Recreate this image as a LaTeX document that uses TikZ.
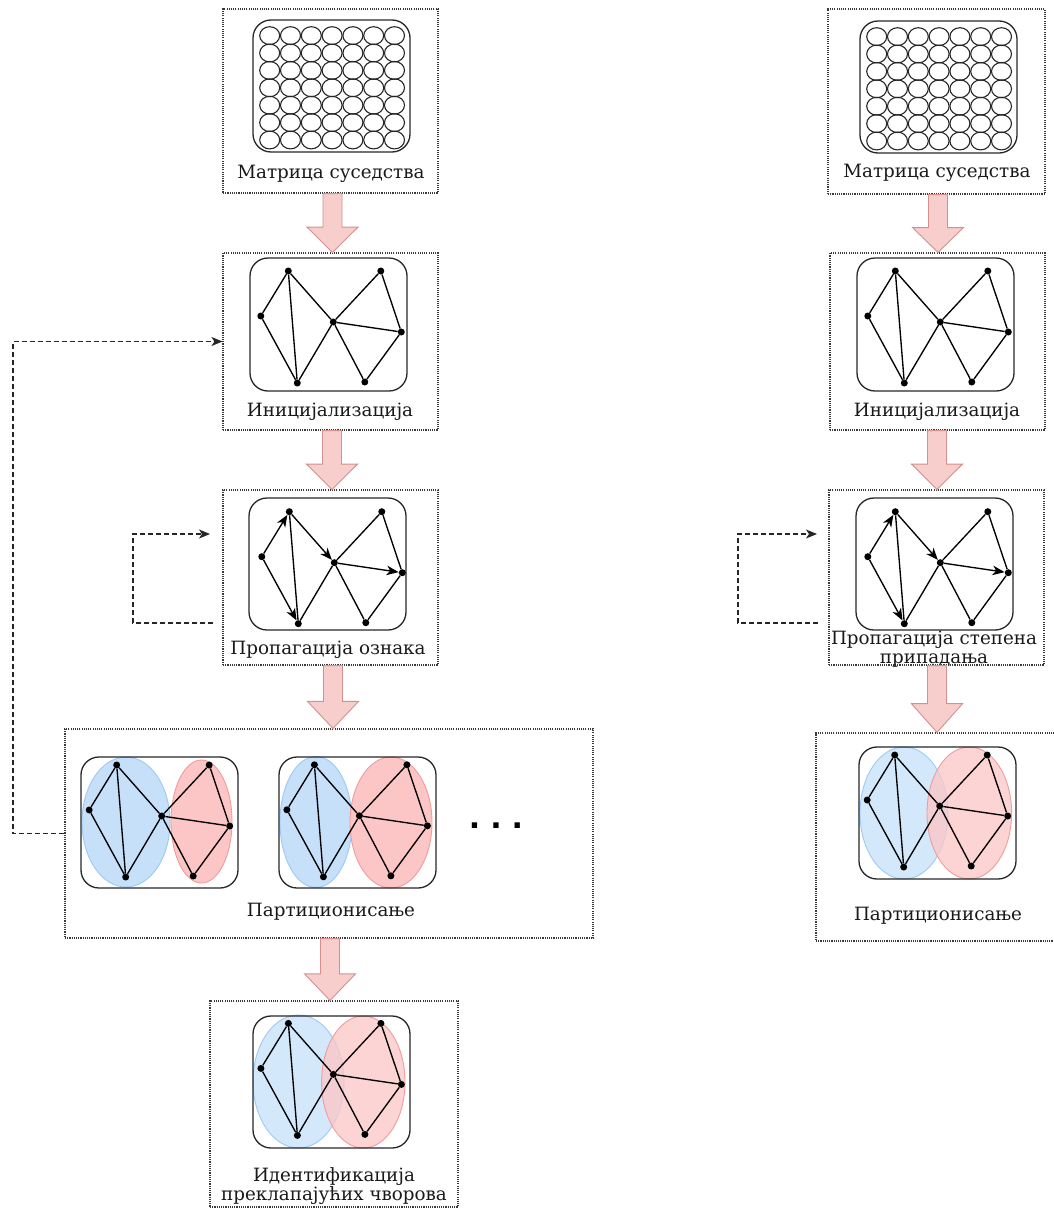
\documentclass[tikz,border=0pt]{standalone}
\usepackage{fontspec}
\setmainfont{DejaVu Serif}
\newfontfamily\dotsfont{DejaVu Sans}
\usetikzlibrary{arrows.meta,fit,calc}

\definecolor{boxline}{HTML}{3A3A3A}
\definecolor{arrowfill}{HTML}{F8CECC}
\definecolor{arrowline}{HTML}{D4908E}
\definecolor{partblue}{HTML}{C6E0FA}
\definecolor{partblueline}{HTML}{9EC9F3}
\definecolor{partred}{HTML}{FCC6C6}
\definecolor{partredline}{HTML}{F09C9C}

\tikzset{
  dotbox/.style={draw=boxline, line width=1.1pt, dash pattern=on 1.1pt off 1.1pt,
    inner sep=0pt, rectangle},
  panel/.style={draw=black!85, line width=1.3pt, rounded corners=18pt},
  cell/.style={draw=black!85, line width=1.1pt},
  vtx/.style={circle, fill=black, inner sep=0pt, minimum size=7pt},
  edge/.style={line width=1.35pt, black},
  dir/.style={edge, -{Stealth[length=12pt,width=9.5pt,inset=3.5pt]}},
  caption/.style={font=\fontsize{18.3}{18.5}\selectfont, text=black!90, align=center},
  flow/.style={draw=arrowline, fill=arrowfill, line width=0.9pt},
  loopline/.style={draw=black!85, line width=1.15pt, dash pattern=on 5pt off 3pt,
    -{Stealth[length=11pt,width=9pt,inset=3pt]}},
  blueset/.style={fill=partblue, draw=partblueline, line width=0.9pt},
  redset/.style={fill=partred, draw=partredline, line width=0.9pt},
}

% block arrow from the bottom of one frame to the top of the next, at x = #3
\newcommand{\flowarrow}[3]{%
  \draw[flow] let \p1=(#1.south), \p2=(#2.north),
      \n1={#3*1pt}, \n2={\y1+0.57*(\y2-\y1)} in
    (\n1-9.5pt,\y1) -- (\n1+9.5pt,\y1) -- (\n1+9.5pt,\n2) -- (\n1+25.5pt,\n2)
    -- (\n1,\y2) -- (\n1-25.5pt,\n2) -- (\n1-9.5pt,\n2) -- cycle;}

% adjacency matrix: rounded panel holding a 7x7 grid of cells
\newcommand{\matrixpanel}[2]{%
  \draw[panel] (#1,#2) rectangle ++(157,132);
  \foreach \i in {0,...,6}{\foreach \j in {0,...,6}{%
    \draw[cell] ({#1+16.7+20.8*\i},{#2+15.6+17.4*\j}) ellipse [x radius=10pt, y radius=8.9pt];}}}

% the seven vertices of the sample network, origin at (#2,#3)
\newcommand{\netvertices}[3]{%
  \node[vtx] (#1A) at ({#2+36},{#3+9}) {};
  \node[vtx] (#1B) at ({#2+8.5},{#3+54}) {};
  \node[vtx] (#1C) at ({#2+45},{#3+121}) {};
  \node[vtx] (#1D) at ({#2+81},{#3+60}) {};
  \node[vtx] (#1E) at ({#2+128.5},{#3+9}) {};
  \node[vtx] (#1F) at ({#2+149},{#3+70}) {};
  \node[vtx] (#1G) at ({#2+112.5},{#3+120}) {};}

% undirected edges of the network
\newcommand{\netedges}[1]{%
  \draw[edge] (#1A) -- (#1B) (#1A) -- (#1C) (#1A) -- (#1D) (#1B) -- (#1C)
    (#1C) -- (#1D) (#1D) -- (#1E) (#1D) -- (#1F) (#1E) -- (#1F)
    (#1D) -- (#1G) (#1G) -- (#1F);}

% edges during propagation, with the directions taken
\newcommand{\propedges}[1]{%
  \draw[dir] (#1B) -- (#1A);
  \draw[dir] (#1B) -- (#1C);
  \draw[dir] (#1A) -- (#1D);
  \draw[dir] (#1D) -- (#1F);
  \draw[edge] (#1A) -- (#1C) (#1C) -- (#1D) (#1D) -- (#1E) (#1E) -- (#1F)
    (#1D) -- (#1G) (#1G) -- (#1F);}

\begin{document}
\begin{tikzpicture}[x=1pt,y=-1pt]
\useasboundingbox (0,0) rectangle (1054,1210);
\clip (0,0) rectangle (1054,1210);

% ---------- frames ----------
\node[dotbox, fit={(223,9) (438,193)}] (b1) {};
\node[dotbox, fit={(223,253) (438,430)}] (b2) {};
\node[dotbox, fit={(223,490) (438,665)}] (b3) {};
\node[dotbox, fit={(65,729) (593,938)}] (b4) {};
\node[dotbox, fit={(210,1001) (458,1207)}] (b5) {};
\node[dotbox, fit={(828,9) (1045,194)}] (r1) {};
\node[dotbox, fit={(830,253) (1045,430)}] (r2) {};
\node[dotbox, fit={(829,490) (1044,665)}] (r3) {};
\node[dotbox, fit={(816,733) (1060,941)}] (r4) {};

% ---------- left pipeline ----------
\matrixpanel{253}{20}
\node[caption] (t1) at (331,174) {Матрица суседства};

\draw[panel] (250,258) rectangle ++(157,133);
\netvertices{i}{252.3}{262}
\netedges{i}
\node[caption] (t2) at (330,412) {Иницијализација};

\draw[panel] (249,498) rectangle ++(157,132);
\netvertices{p}{253.3}{502.7}
\propedges{p}
\node[caption] (t3) at (328,650) {Пропагација ознака};

% two candidate partitions
\fill[blueset] (126,822) ellipse [x radius=44pt, y radius=65pt];
\fill[redset] (201.5,821.5) ellipse [x radius=30.5pt, y radius=61.5pt];
\draw[panel] (81,757) rectangle ++(157,131);
\netvertices{s}{80.7}{756}
\netedges{s}

\fill[blueset] (316,822) ellipse [x radius=36pt, y radius=65.5pt];
\fill[redset] (391,822.5) ellipse [x radius=41pt, y radius=65.5pt];
\draw[panel] (279,757) rectangle ++(157,131);
\netvertices{u}{278.4}{755.8}
\netedges{u}

\node[font=\dotsfont\bfseries\fontsize{30}{30}\selectfont] (more) at (496,826) {.\,\,.\,\,.};
\node[caption] (t4) at (331,912) {Партиционисање};

% overlapping communities
\fill[blueset, fill opacity=0.75] (298.5,1081.5) ellipse [x radius=45.5pt, y radius=66.5pt];
\fill[redset, fill opacity=0.75] (363.3,1082) ellipse [x radius=41.7pt, y radius=66pt];
\draw[panel] (253,1016) rectangle ++(157,132);
\netvertices{o}{252.4}{1014.4}
\netedges{o}
\node[caption] (t5) at (334,1186) {Идентификација\\преклапајућих чворова};

% ---------- right pipeline ----------
\matrixpanel{860}{21}
\node[caption] (q1) at (937,173) {Матрица суседства};

\draw[panel] (857,258) rectangle ++(157,133);
\netvertices{ri}{859.3}{262}
\netedges{ri}
\node[caption] (q2) at (937,412) {Иницијализација};

\draw[panel] (856,498) rectangle ++(157,132);
\netvertices{rp}{859.3}{502.7}
\propedges{rp}
\node[caption] (q3) at (934,649) {Пропагација степена\\припадања};

\fill[blueset, fill opacity=0.75] (904,813) ellipse [x radius=44pt, y radius=66pt];
\fill[redset, fill opacity=0.75] (969.3,813) ellipse [x radius=42.3pt, y radius=66pt];
\draw[panel] (859,747) rectangle ++(157,132);
\netvertices{rs}{858.7}{746}
\netedges{rs}
\node[caption] (q4) at (938,916) {Партиционисање};

% ---------- flow arrows ----------
\flowarrow{b1}{b2}{332.5}
\flowarrow{b2}{b3}{332}
\flowarrow{b3}{b4}{333}
\flowarrow{b4}{b5}{330}
\flowarrow{r1}{r2}{938}
\flowarrow{r2}{r3}{937}
\flowarrow{r3}{r4}{937}

% ---------- iteration loops ----------
\draw[loopline] (b4.west) -- (b4.west -| 13,0) |- (b2.west);
\coordinate (ls) at (213,623);
\coordinate (le) at (210,534);
\draw[loopline] (ls) -- ++(-80,0) |- (le);
\coordinate (rls) at (818,623);
\coordinate (rle) at (817,534);
\draw[loopline] (rls) -- ++(-80,0) |- (rle);
\end{tikzpicture}
\end{document}
